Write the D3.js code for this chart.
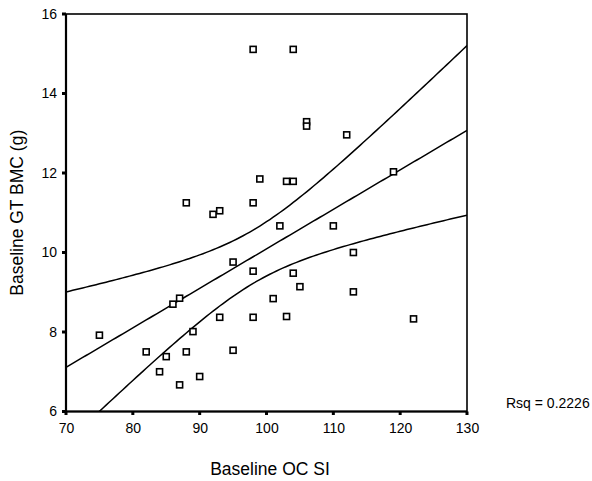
<!DOCTYPE html>
<html>
<head>
<meta charset="utf-8">
<script src="https://cdn.jsdelivr.net/npm/d3@7"></script>
<style>
  body { margin: 0; background: #fff; }
  text { font-family: "Liberation Sans", Arial, sans-serif; fill: #000; }
</style>
</head>
<body>
<div id="chart"></div>
<script>
// data
var ocSI = [75, 82, 84, 85, 86, 87, 87, 88, 88, 89, 90, 92, 93, 93, 95, 95, 98, 98, 98, 98,
            99, 101, 102, 103, 103, 104, 104, 104, 105, 106, 106, 110, 112, 113, 113, 119, 122];
var gtBMC = [7.92, 7.50, 7.00, 7.38, 8.70, 8.85, 6.67, 11.25, 7.50, 8.01, 6.88, 10.96, 11.05, 8.37, 9.76, 7.54, 15.11, 11.25, 9.53, 8.37,
             11.85, 8.84, 10.67, 11.79, 8.39, 15.11, 11.79, 9.48, 9.14, 13.29, 13.18, 10.67, 12.96, 10.00, 9.01, 12.03, 8.33];
var xTicks = [70, 80, 90, 100, 110, 120, 130];
var yTicks = [6, 8, 10, 12, 14, 16];
var rsqLabel = "Rsq = 0.2226";

var W = 592, H = 481;
// plot box (note: "top" is a reserved window prop, so use pTop etc)
var pLeft = 66, pRight = 467, pTop = 14, pBottom = 411.5;

var svg = d3.select("#chart").append("svg")
  .attr("width", W)
  .attr("height", H);

var x = d3.scaleLinear().domain([70, 130]).range([pLeft, pRight]);
var y = d3.scaleLinear().domain([6, 16]).range([pBottom, pTop]);

// linear fit + 95% confidence band for the mean
var n = ocSI.length;
var mx = d3.mean(ocSI), my = d3.mean(gtBMC);
var sxx = 0, sxy = 0;
for (var i = 0; i < n; i++) {
  sxx += (ocSI[i] - mx) * (ocSI[i] - mx);
  sxy += (ocSI[i] - mx) * (gtBMC[i] - my);
}
var b = sxy / sxx, a = my - b * mx;
var sse = 0;
for (var i = 0; i < n; i++) {
  var r = gtBMC[i] - (a + b * ocSI[i]);
  sse += r * r;
}
var s = Math.sqrt(sse / (n - 2));
var tval = 2.03;
var xs = d3.range(70, 130.01, 0.5);
var fitPts = xs.map(function(v) { return [v, a + b * v]; });
var upPts = xs.map(function(v) {
  return [v, a + b * v + tval * s * Math.sqrt(1 / n + (v - mx) * (v - mx) / sxx)];
});
var loPts = xs.map(function(v) {
  return [v, a + b * v - tval * s * Math.sqrt(1 / n + (v - mx) * (v - mx) / sxx)];
});

svg.append("clipPath").attr("id", "plotclip")
  .append("rect")
  .attr("x", pLeft).attr("y", pTop)
  .attr("width", pRight - pLeft).attr("height", pBottom - pTop);

var line = d3.line()
  .x(function(d) { return x(d[0]); })
  .y(function(d) { return y(d[1]); });

var g = svg.append("g").attr("clip-path", "url(#plotclip)");
[fitPts, upPts, loPts].forEach(function(pts) {
  g.append("path")
    .attr("d", line(pts))
    .attr("fill", "none")
    .attr("stroke", "#000")
    .attr("stroke-width", 1.5);
});

// points
svg.append("g").selectAll("rect")
  .data(ocSI)
  .enter().append("rect")
  .attr("x", function(d) { return x(d) - 3; })
  .attr("y", function(d, i) { return y(gtBMC[i]) - 3; })
  .attr("width", 6)
  .attr("height", 6)
  .attr("fill", "#fff")
  .attr("stroke", "#000")
  .attr("stroke-width", 1.6);

// frame
svg.append("rect")
  .attr("x", pLeft).attr("y", pTop)
  .attr("width", pRight - pLeft).attr("height", pBottom - pTop)
  .attr("fill", "none")
  .attr("stroke", "#000")
  .attr("stroke-width", 1.6);
svg.append("line")
  .attr("x1", pLeft).attr("x2", pLeft)
  .attr("y1", pTop).attr("y2", pBottom)
  .attr("stroke", "#000").attr("stroke-width", 2.2);
svg.append("line")
  .attr("x1", pLeft).attr("x2", pRight)
  .attr("y1", pBottom).attr("y2", pBottom)
  .attr("stroke", "#000").attr("stroke-width", 2);

// axes
var xAxis = d3.axisBottom(x).tickValues(xTicks).tickSize(0).tickPadding(12);
var yAxis = d3.axisLeft(y).tickValues(yTicks).tickSize(0).tickPadding(9);

var gx = svg.append("g").attr("transform", "translate(0," + pBottom + ")").call(xAxis);
var gy = svg.append("g").attr("transform", "translate(" + pLeft + ",0)").call(yAxis);
[gx, gy].forEach(function(ax) {
  ax.select(".domain").remove();
  ax.selectAll("text").style("font-size", "14px").style("font-family", "Liberation Sans, Arial, sans-serif");
});

// square tick marks
svg.append("g").selectAll("rect")
  .data(xTicks)
  .enter().append("rect")
  .attr("x", function(d) { return x(d) - 1.5; })
  .attr("y", pBottom)
  .attr("width", 3).attr("height", 3.5)
  .attr("fill", "#000");
svg.append("g").selectAll("rect")
  .data(yTicks)
  .enter().append("rect")
  .attr("x", pLeft - 4)
  .attr("y", function(d) { return y(d) - 1.5; })
  .attr("width", 4).attr("height", 3)
  .attr("fill", "#000");

// titles
svg.append("text")
  .attr("x", 270)
  .attr("y", 475)
  .attr("text-anchor", "middle")
  .style("font-size", "17.5px")
  .text("Baseline OC SI");

svg.append("text")
  .attr("transform", "translate(23," + ((pTop + pBottom) / 2) + ") rotate(-90)")
  .attr("text-anchor", "middle")
  .style("font-size", "17.5px")
  .text("Baseline GT BMC (g)");

svg.append("text")
  .attr("x", 506)
  .attr("y", 408)
  .style("font-size", "14px")
  .text(rsqLabel);
</script>
</body>
</html>
